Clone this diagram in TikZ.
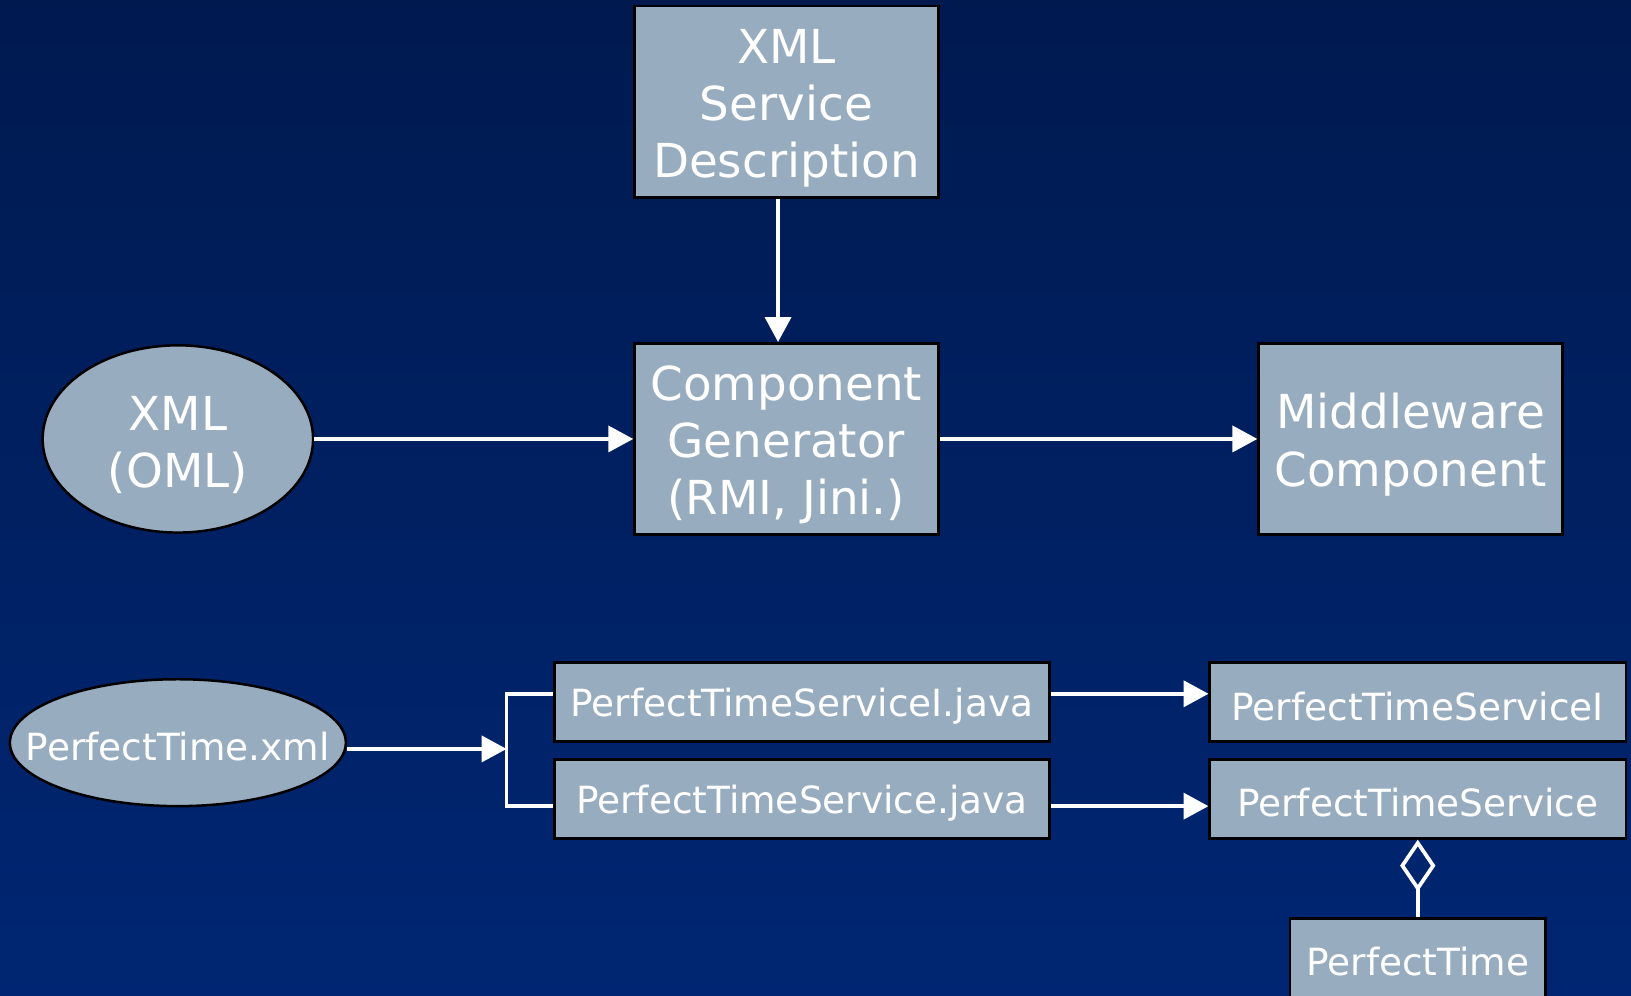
\documentclass[tikz,border=0pt]{standalone}
\usepackage{fontspec}
\setmainfont{DejaVu Sans}
\usetikzlibrary{arrows.meta,shapes.geometric}
\definecolor{boxgray}{RGB}{151,172,190}
\definecolor{navytop}{RGB}{0,26,80}
\definecolor{navybot}{RGB}{0,38,115}
\newcommand{\biglift}{\rule{0pt}{22.5pt}}
\newcommand{\smalllift}{\rule{0pt}{17.5pt}}

\begin{document}
\begin{tikzpicture}[x=0.5pt,y=-0.5pt,
    box/.style={draw=black, line width=1.2pt, fill=boxgray, text=white, align=center, inner sep=0pt},
    bigbox/.style={box, minimum width=146pt, minimum height=92pt, font=\fontsize{22.5}{27.5}\selectfont},
    smallbox/.style={box, minimum height=38pt, font=\fontsize{18}{21}\selectfont},
    blob/.style={ellipse, draw=black, line width=1.2pt, fill=boxgray, text=white, inner sep=0pt, align=center},
    flow/.style={draw=white, line width=1.8pt, -{Triangle[length=12pt,width=12.5pt]}}]

    % 背景
    \clip (0,0) rectangle (1568,957);
    \fill[top color=navytop, bottom color=navybot] (0,0) rectangle (1568,957);

    % 上部：服务描述与生成器
    \node[bigbox] (desc) at (756,98) {\biglift XML\\Service\\Description};
    \node[bigbox] (gen) at (756,422) {\biglift Component\\Generator\\(RMI, Jini.)};
    \node[bigbox] (mid) at (1356,422) {\biglift Middleware\\Component};
    \node[blob, minimum width=130pt, minimum height=90pt, font=\fontsize{22.5}{27.5}\selectfont] (oml) at (171,422) {\biglift XML\\(OML)};

    \draw[flow] ([xshift=-4pt]desc.south) -- ([xshift=-4pt]gen.north);
    \draw[flow] (oml.east) -- (gen.west);
    \draw[flow] (gen.east) -- (mid.west);

    % 下部：PerfectTime 示例
    \node[blob, inner xsep=-16pt, minimum width=161.5pt, minimum height=61pt, font=\fontsize{18}{21}\selectfont] (ptxml) at (171,714) {\smalllift PerfectTime.xml};
    \coordinate (fork) at (487,720);

    \node[smallbox, minimum width=238pt] (javaI) at (771,675) {\smalllift PerfectTimeServiceI.java};
    \node[smallbox, minimum width=238pt] (java) at (771,768) {\smalllift PerfectTimeService.java};
    \node[smallbox, minimum width=200pt] (servI) at (1363,675) {\smalllift PerfectTimeServiceI};
    \node[smallbox, minimum width=200pt] (serv) at (1363,768) {\smalllift PerfectTimeService};
    \node[smallbox, minimum width=123pt] (ptime) at (1363,921) {\smalllift PerfectTime};

    \draw[flow] ([yshift=-3pt]ptxml.east) -- (fork);
    \draw[white, line width=1.8pt] ([yshift=4pt]javaI.west) -| (fork) |- ([yshift=-3.5pt]java.west);

    \draw[flow] ([yshift=4pt]javaI.east) -- ([yshift=4pt]servI.west);
    \draw[flow] ([yshift=-3.5pt]java.east) -- ([yshift=-3.5pt]serv.west);

    \draw[white, line width=1.8pt, {Diamond[open,length=25pt,width=17pt]}-] (serv.south) -- (ptime.north);
\end{tikzpicture}
\end{document}
